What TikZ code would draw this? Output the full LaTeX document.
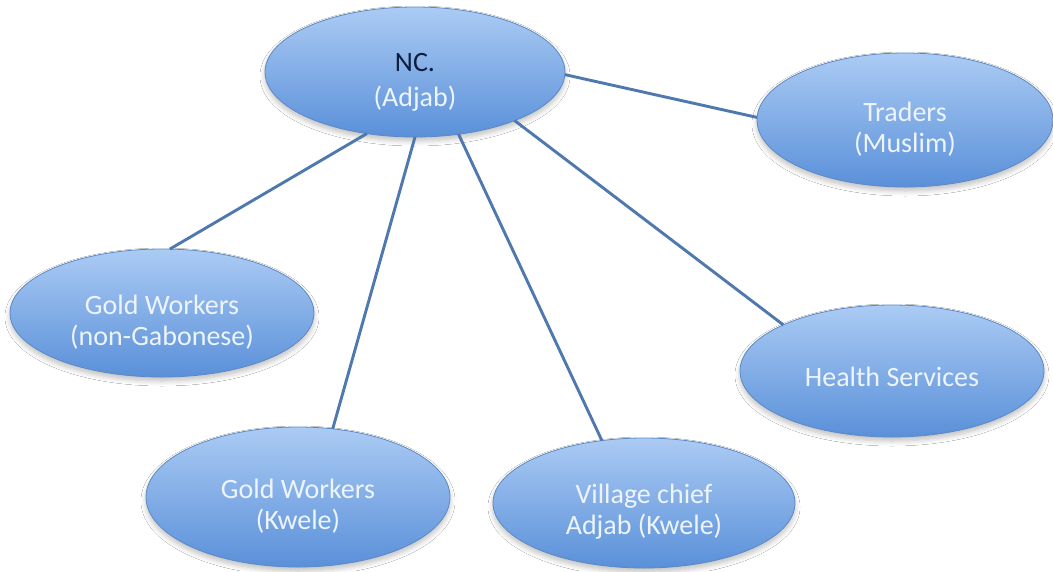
\documentclass[tikz,border=0pt]{standalone}
\usepackage{fontspec}
\setmainfont{Carlito}
\usetikzlibrary{shapes.geometric,shadows.blur}

\definecolor{bubbletop}{HTML}{ABCBF4}
\definecolor{bubblebot}{HTML}{5A90D9}
\definecolor{bubbleedge}{HTML}{5C89C4}
\definecolor{linkcol}{HTML}{4E78AE}
\definecolor{labelcol}{HTML}{EEF4FC}
\definecolor{headcol}{HTML}{0E1E3E}

\tikzset{
  bubble/.style={ellipse, draw=bubbleedge, line width=0.8pt,
    top color=bubbletop, bottom color=bubblebot,
    inner sep=0pt, outer sep=0pt,
    blur shadow={shadow xshift=0pt, shadow yshift=-4pt, shadow blur steps=6,
      shadow opacity=25, shadow blur radius=5pt}},
  caption/.style={align=center, text=labelcol, inner sep=0pt, yshift=-9pt,
    font=\fontsize{28}{31}\selectfont},
  link/.style={draw=linkcol, line width=2.9pt}
}

\begin{document}
\begin{tikzpicture}[x=1pt, y=1pt]
  \useasboundingbox (0,0) rectangle (1053,-571);
  \fill[white] (0,0) rectangle (1053,-571);

  % the six groups
  \node[bubble, minimum width=300, minimum height=130,
    label={[caption, yshift=-1pt]center:{\textcolor{headcol}{NC.}\\[4pt](Adjab)}}] (nc) at (415,-72) {};
  \node[bubble, minimum width=296, minimum height=134,
    label={[caption]center:{Traders\\(Muslim)}}] (tr) at (905,-120) {};
  \node[bubble, minimum width=304, minimum height=128,
    label={[caption]center:{Gold Workers\\(non-Gabonese)}}] (gw) at (162,-313) {};
  \node[bubble, minimum width=304, minimum height=132,
    label={[caption, yshift=3pt]center:{Health Services}}] (hs) at (892,-371) {};
  \node[bubble, minimum width=304, minimum height=140,
    label={[caption]center:{Gold Workers\\(Kwele)}}] (gk) at (298,-497) {};
  \node[bubble, minimum width=302, minimum height=130,
    label={[caption]center:{Village chief\\Adjab (Kwele)}}] (vc) at (644,-503) {};

  % ties from the centre group
  \draw[link] (nc.359) -- (tr.179);
  \draw[link] (nc.232) -- (gw.83);
  \draw[link] (nc.270) -- (gk.63);
  \draw[link] (nc.305) -- (vc.124);
  \draw[link] (nc.334) -- (hs.157);
\end{tikzpicture}
\end{document}
